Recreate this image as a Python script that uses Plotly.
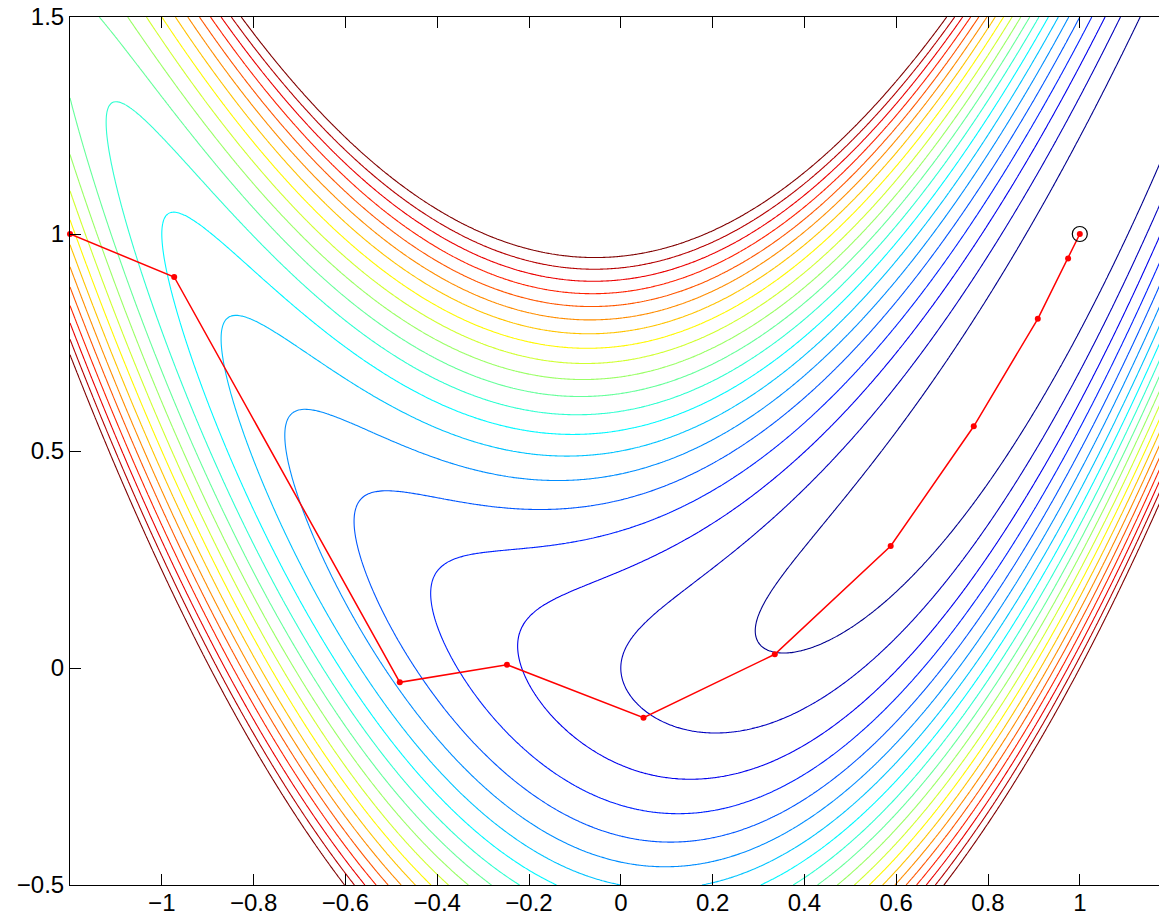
import numpy as np
import plotly.graph_objects as go

# Objective surface: f(x, y) = (1 - x)^2 + B * (y - x^2)^2
B_COEF = 10.0
X_RANGE = [-1.2, 1.2]
Y_RANGE = [-0.5, 1.5]

# Contour levels (start, end, step)
LEVEL_START = 0.5
LEVEL_END = 10.0
LEVEL_STEP = 0.5

# Iterates of the minimisation path
path_x = [-1.2, -0.973, -0.4815, -0.248, 0.0495, 0.3355, 0.588, 0.769, 0.9085, 0.9745, 1.0]
path_y = [1.0, 0.901, -0.033, 0.0076, -0.1145, 0.0316, 0.281, 0.557, 0.8046, 0.9437, 1.0]

# Final point (circled)
final_x = [1.0]
final_y = [1.0]

# Tick values and labels
x_tickvals = [-1, -0.8, -0.6, -0.4, -0.2, 0, 0.2, 0.4, 0.6, 0.8, 1]
x_ticktext = ["\u22121", "\u22120.8", "\u22120.6", "\u22120.4", "\u22120.2", "0",
              "0.2", "0.4", "0.6", "0.8", "1"]
y_tickvals = [-0.5, 0, 0.5, 1, 1.5]
y_ticktext = ["\u22120.5", "0", "0.5", "1", "1.5"]

# MATLAB-style jet colour map
jet = [
    [0.0, "rgb(0,0,143)"],
    [0.125, "rgb(0,0,255)"],
    [0.375, "rgb(0,255,255)"],
    [0.625, "rgb(255,255,0)"],
    [0.875, "rgb(255,0,0)"],
    [1.0, "rgb(128,0,0)"],
]

gx = np.linspace(X_RANGE[0], X_RANGE[1], 481)
gy = np.linspace(Y_RANGE[0], Y_RANGE[1], 401)
XX, YY = np.meshgrid(gx, gy)
ZZ = ((1 - XX) ** 2 + B_COEF * (YY - XX ** 2) ** 2).astype(np.float32)

fig = go.Figure()

fig.add_trace(go.Contour(
    x=gx, y=gy, z=ZZ,
    contours=dict(start=LEVEL_START, end=LEVEL_END, size=LEVEL_STEP, coloring="lines"),
    colorscale=jet,
    zauto=False, zmin=LEVEL_START, zmax=LEVEL_END,
    line=dict(width=1.1),
    showscale=False,
    hoverinfo="skip",
))

fig.add_trace(go.Scatter(
    x=path_x, y=path_y,
    mode="lines+markers",
    line=dict(color="rgb(255,0,0)", width=1.5),
    marker=dict(color="rgb(255,0,0)", size=6),
    cliponaxis=False,
    showlegend=False,
))

fig.add_trace(go.Scatter(
    x=final_x, y=final_y,
    mode="markers",
    marker=dict(symbol="circle-open", size=15, color="black", line=dict(width=1.2)),
    cliponaxis=False,
    showlegend=False,
))

W, H = 1159, 919
left, top, bottom = 70, 17, 34
plot_w = W - left
px_per_unit = 459.0
x_hi = X_RANGE[0] + plot_w / px_per_unit

font = dict(family="Liberation Sans, Arial, Helvetica, sans-serif", size=24, color="black")

fig.update_layout(
    width=W, height=H,
    margin=dict(l=left, r=0, t=top, b=bottom, pad=0, autoexpand=False),
    paper_bgcolor="white",
    plot_bgcolor="white",
    font=font,
    showlegend=False,
    xaxis=dict(
        range=[X_RANGE[0], x_hi], automargin=False,
        tickmode="array", tickvals=x_tickvals, ticktext=x_ticktext,
        ticks="inside", ticklen=11, tickwidth=1, tickcolor="black",
        showline=True, linecolor="black", linewidth=1, mirror="ticks",
        showgrid=False, zeroline=False,
        tickfont=font, ticklabelstandoff=-4,
    ),
    yaxis=dict(
        range=Y_RANGE, automargin=False,
        tickmode="array", tickvals=y_tickvals, ticktext=y_ticktext,
        ticks="inside", ticklen=11, tickwidth=1, tickcolor="black",
        showline=True, linecolor="black", linewidth=1,
        showgrid=False, zeroline=False,
        tickfont=font, ticklabelstandoff=0,
    ),
)

fig.write_html("out.html")
